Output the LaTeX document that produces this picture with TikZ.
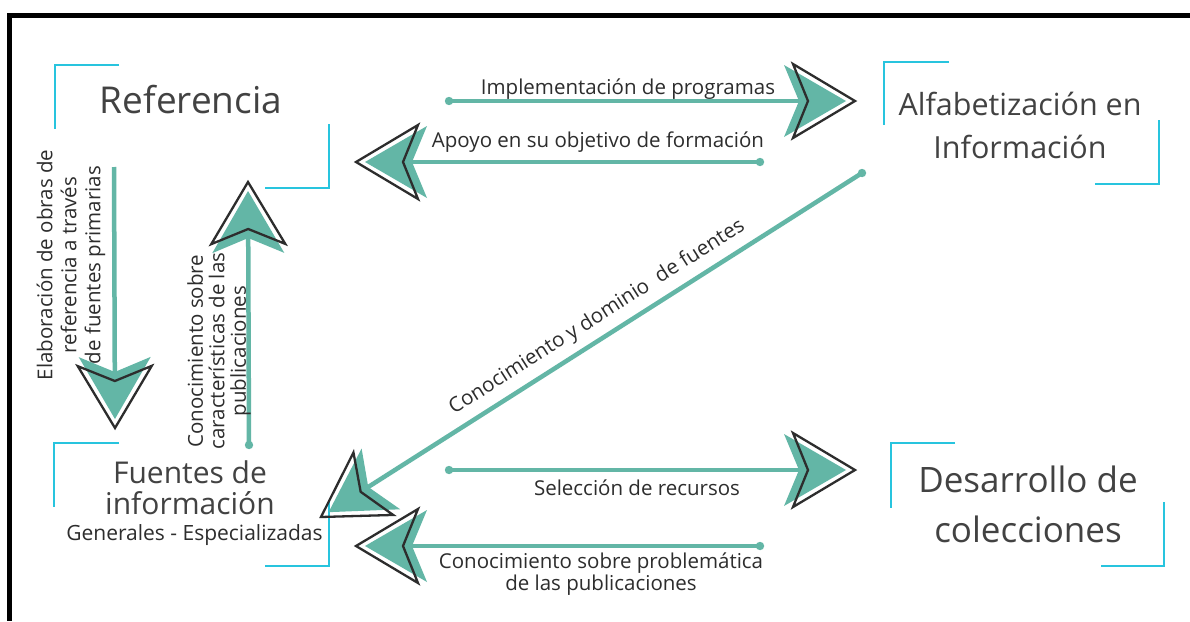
\documentclass[tikz,border=0pt]{standalone}
\usepackage{fontspec}
\setmainfont{Open Sans}
\usetikzlibrary{calc}
\definecolor{tealA}{RGB}{99,182,166}
\definecolor{cyanA}{RGB}{40,196,222}
\definecolor{txtA}{RGB}{66,66,66}
\definecolor{txtB}{RGB}{45,45,45}
\definecolor{outlA}{RGB}{45,45,45}
\tikzset{
  concept/.style={align=center, text=txtA, inner sep=0pt},
  elabel/.style={text=txtB, font=\fontsize{20.5}{19.5}\selectfont, inner sep=0pt, align=center},
  bracket/.style={draw=cyanA, line width=2.6pt},
  shaft/.style={draw=tealA, line width=4.5pt},
  pics/skhead/.style={code={
    \fill[tealA] (-9,0) -- (-71,-36) -- (-56,0) -- (-71,36) -- cycle;
    \draw[outlA, line width=2.3pt, line join=miter] (-62,-37) -- (0,0) -- (-62,37) -- (-47,0) -- cycle;
  }},
}
\newcommand{\skarrow}[2]{%
  \draw[shaft] (#1) -- ($(#2)!40pt!(#1)$);
  \path let \p1=($(#2)-(#1)$), \n1={atan2(\y1,\x1)} in pic[rotate=\n1] at (#2) {skhead};
}
\newcommand{\skdot}[1]{\fill[tealA] (#1) circle[radius=4.2pt];}
\begin{document}
\begin{tikzpicture}[x=1pt,y=-1pt]
\useasboundingbox (0,0) rectangle (1190,621);
\fill[white] (0,0) rectangle (1190,621);
% frame
\draw[black, line width=5pt] (1190,15.5) -- (9.5,15.5) -- (9.5,621);

% concept nodes (base = last line baseline)
\node[concept, font=\fontsize{37}{40}\selectfont, anchor=base] (ref) at (191,113) {Referencia};
\node[concept, font=\fontsize{30.5}{43}\selectfont, anchor=base] (alf) at (1020,158) {Alfabetización en\\Información};
\node[concept, font=\fontsize{30}{31}\selectfont, anchor=base] (fue) at (190,540) {Fuentes de\\información\\[-5pt]{\color{txtB}\fontsize{21}{20}\selectfont\hspace*{9pt}Generales - Especializadas}};
\node[concept, font=\fontsize{35}{50}\selectfont, anchor=base] (des) at (1028,542) {Desarrollo de\\colecciones};

% brackets
\draw[bracket] (119,65)--(55,65)--(55,129);
\draw[bracket] (329,124)--(329,188)--(265,188);
\draw[bracket] (949,62)--(884,62)--(884,125);
\draw[bracket] (1159,120)--(1159,184)--(1095,184);
\draw[bracket] (119,443)--(54,443)--(54,507);
\draw[bracket] (329,502)--(329,566)--(265,566);
\draw[bracket] (955,443)--(891,443)--(891,508);
\draw[bracket] (1164,502)--(1164,566)--(1101,566);

% arrow end points
\coordinate (a1s) at (449,101); \coordinate (a1t) at (855,101);
\coordinate (a2s) at (760,162); \coordinate (a2t) at (356,162);
\coordinate (a3s) at (862,173); \coordinate (a3t) at (321,517);
\coordinate (a4s) at (449,470); \coordinate (a4t) at (855,470);
\coordinate (a5s) at (760,546); \coordinate (a5t) at (356,546);
\coordinate (a6s) at (114,167); \coordinate (a6t) at (115,428);
\coordinate (a7s) at (249,445); \coordinate (a7t) at (248,182);

\skdot{a1s}\skarrow{a1s}{a1t}
\skdot{a2s}\skarrow{a2s}{a2t}
\skdot{a3s}\skarrow{a3s}{a3t}
\skdot{a4s}\skarrow{a4s}{a4t}
\skdot{a5s}\skarrow{a5s}{a5t}
\skarrow{a6s}{a6t}
\skdot{a7s}\skarrow{a7s}{a7t}

% labels
\node[elabel, anchor=base] (l1) at (628,94) {Implementación de programas};
\node[elabel, anchor=base] (l2) at (598,147) {Apoyo en su objetivo de formación};
\node[elabel, anchor=base, rotate=32.5] (l3) at (600,322) {Conocimiento y dominio\ \ de fuentes};
\node[elabel, anchor=base] (l4) at (637,495) {Selección de recursos};
\node[elabel, anchor=base] (l5) at (601,590) {Conocimiento sobre problemática\\de las publicaciones};
\node[elabel, font=\fontsize{20.5}{24}\selectfont, rotate=90] (l6) at (71,265) {Elaboración de obras de\\referencia a través\\de fuentes primarias};
\node[elabel, font=\fontsize{20.5}{21.5}\selectfont, rotate=90] (l7) at (219,351) {Conocimiento sobre\\características de las\\publicaciones};
\end{tikzpicture}
\end{document}
